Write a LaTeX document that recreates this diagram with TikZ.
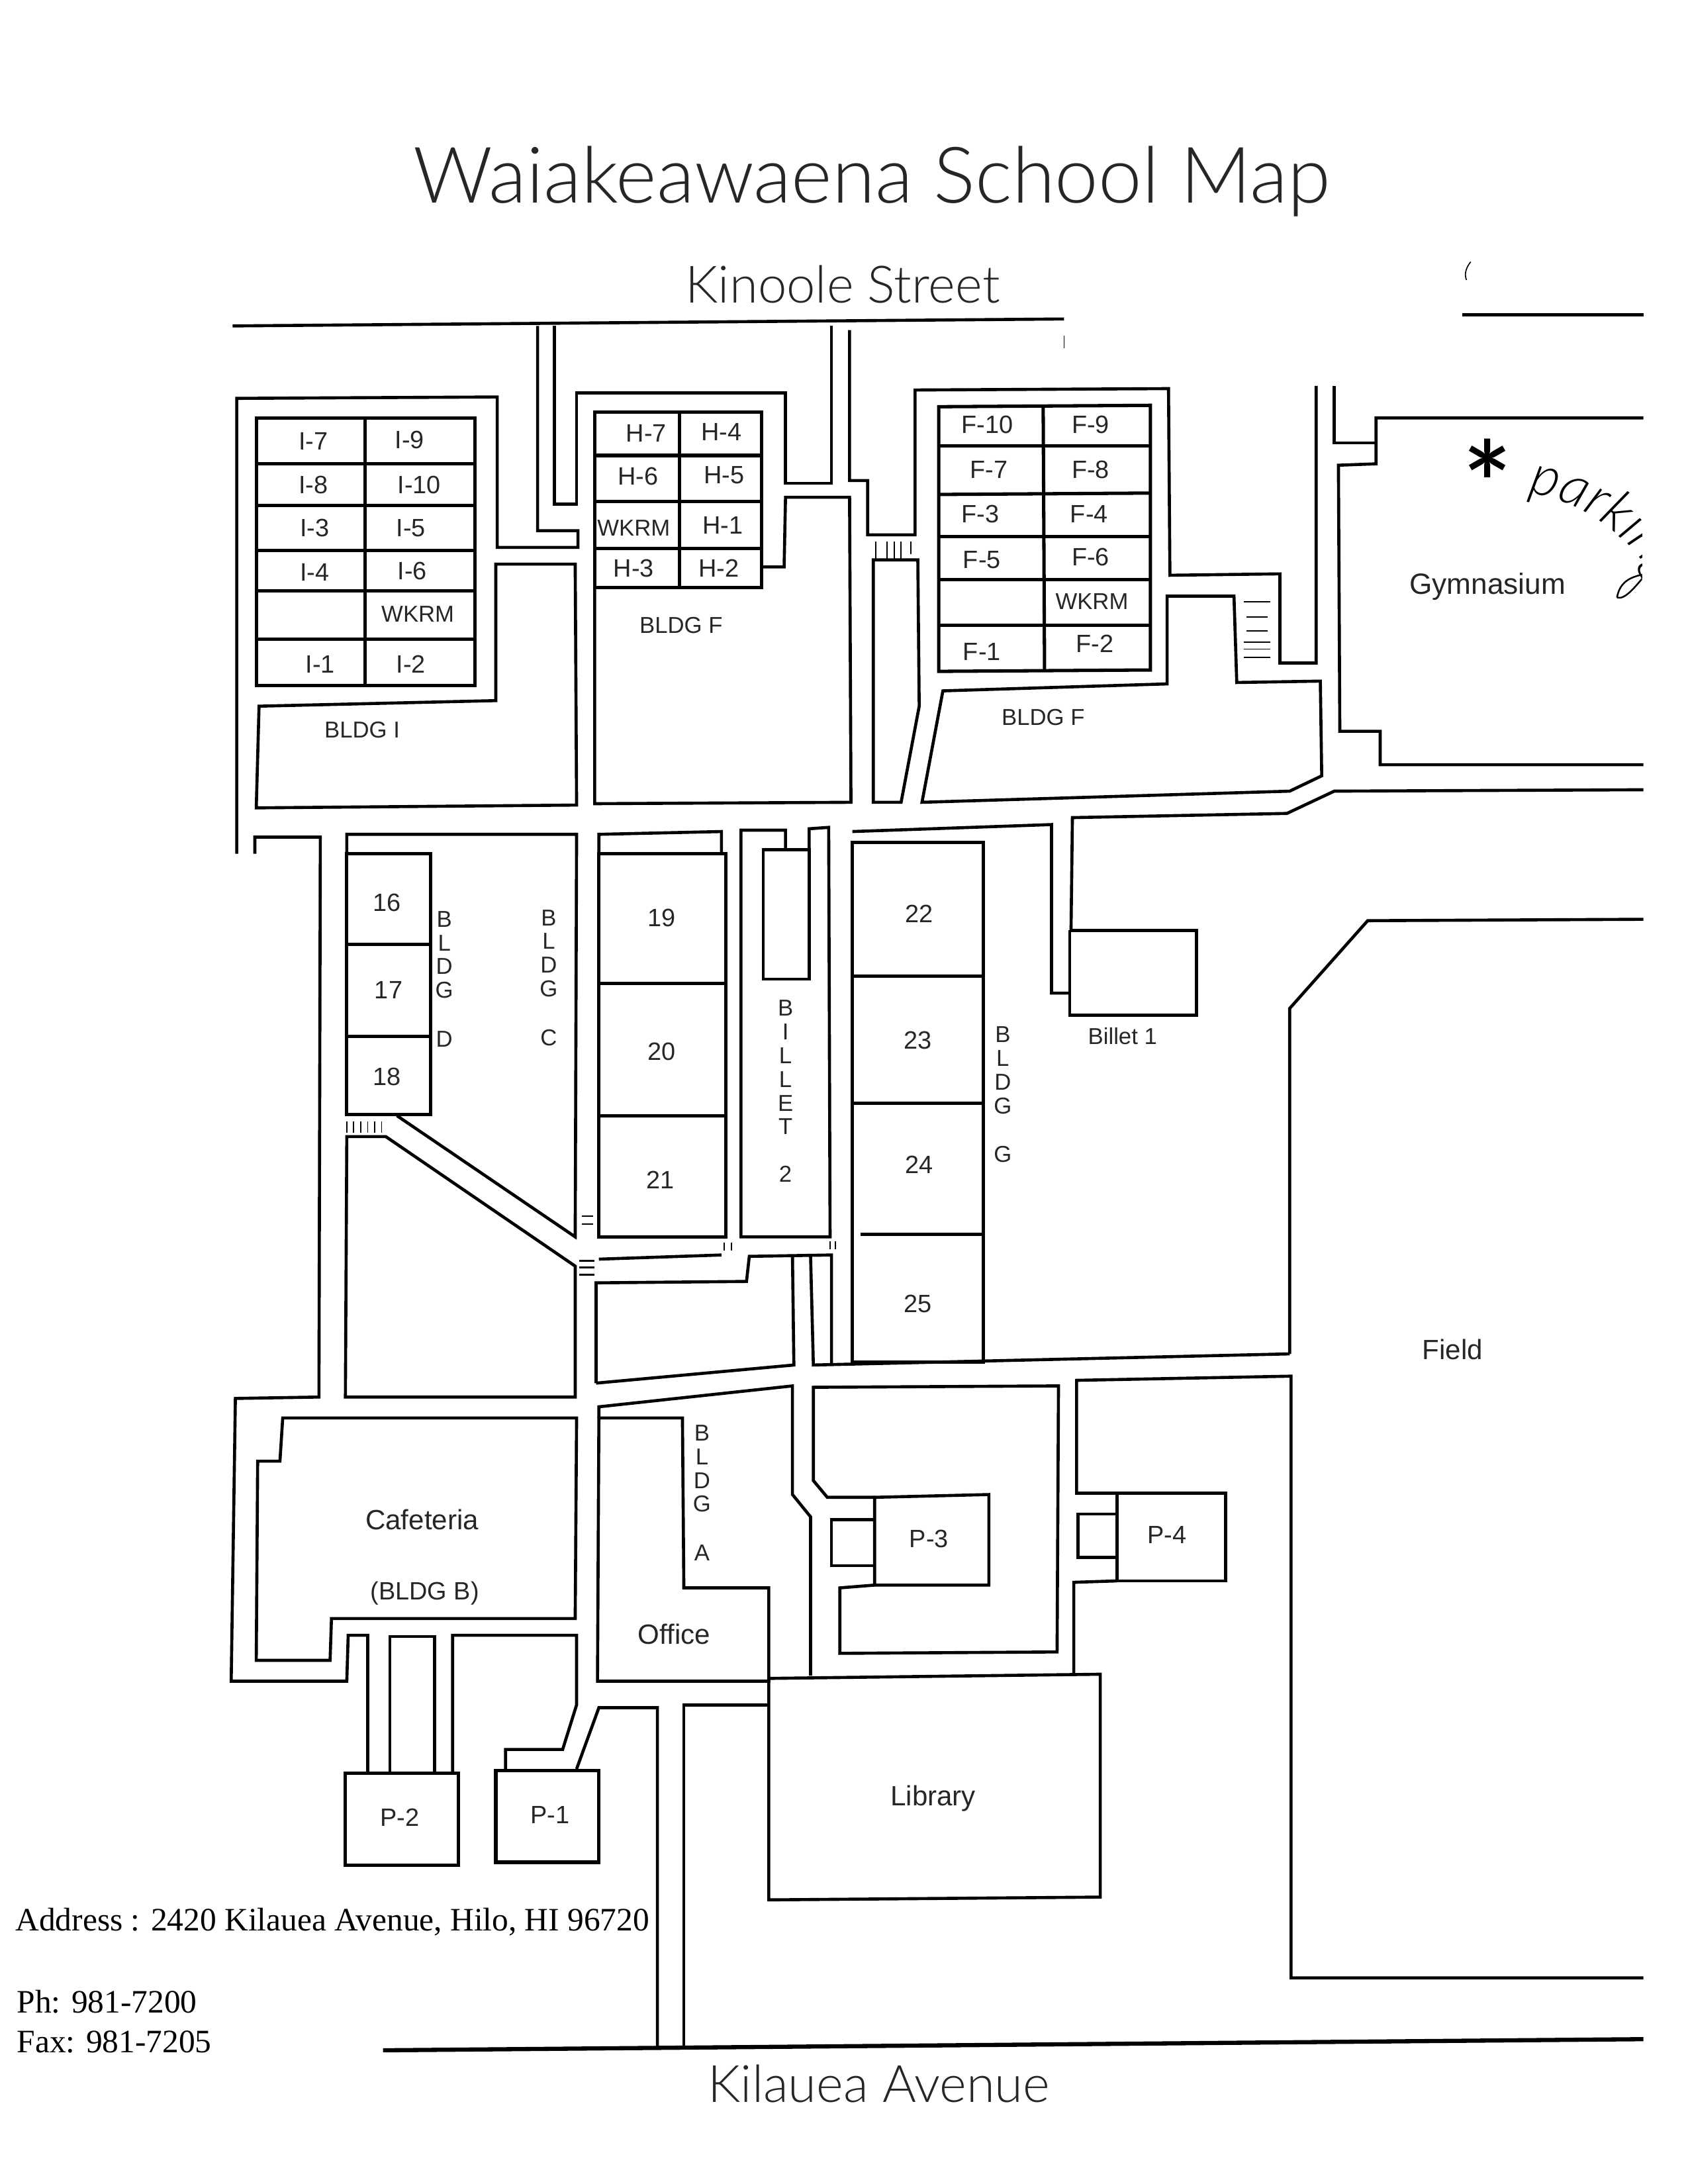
\documentclass[tikz,border=0pt]{standalone}
\usepackage{fontspec}
\usetikzlibrary{decorations.text}
\setmainfont{Liberation Sans}
\newfontfamily\addrfont{Liberation Serif}
\newfontfamily\handfont{Lato Light}
\begin{document}
\begin{tikzpicture}[
    x=1pt, y=-1pt,
    wall/.style={line width=2.2pt, line join=miter},
    roomline/.style={line width=2.4pt},
    tickline/.style={line width=0.9pt},
    room/.style={inner sep=0pt, font=\fontsize{18}{18}\selectfont, text=black!85},
    sign/.style={inner sep=0pt, font=\fontsize{20}{20}\selectfont, text=black!85},
    bldg/.style={inner sep=0pt, font=\fontsize{16.5}{16.5}\selectfont, text=black!85},
    vlabel/.style={anchor=north, inner sep=0pt, align=center, font=\fontsize{16.5}{17}\selectfont, text=black!85},
    street/.style={inner sep=0pt, text=black!85, font=\handfont\fontsize{37}{37}\selectfont},
    addr/.style={anchor=west, inner sep=0pt, font=\addrfont\fontsize{23.5}{23.5}\selectfont}
]
\useasboundingbox (0,0) rectangle (1212,1568);

% Title and streets
\node[inner sep=0pt, text=black!85, font=\handfont\fontsize{56}{56}\selectfont] (title) at (626,130) {Waiakeawaena School Map};
\node[street] (kinoole) at (605,204) {Kinoole Street};
\node[street] (kilauea) at (631,1496) {Kilauea Avenue};
\draw[wall] (167,234) -- (764,229);
\draw[wall] (1050,226) -- (1180,226);
\draw[line width=3pt] (275,1472) -- (1180,1464);
\draw[line width=0.8pt] (1056,188) .. controls (1051,194) and (1052,199) .. (1053,201);
\draw[line width=0.8pt] (764,241) -- (764,250);

% Paths round BLDG I and BLDG H
\draw[wall] (170,613) -- (170,286) -- (357,285) -- (357,393) -- (415,393) -- (415,381) -- (386,381) -- (386,234);
\draw[wall] (398,234) -- (398,362) -- (414,362) -- (414,282) -- (564,282) -- (564,347) -- (597,347) -- (597,234);
\draw[wall] (610,237) -- (610,345) -- (623,345) -- (623,384) -- (657,384) -- (657,280) -- (839,279) -- (840,413) -- (919,412) -- (919,476) -- (945,476) -- (945,277);

% BLDG I
\draw[wall] (186,507) -- (356,503) -- (356,405) -- (413,405) -- (414,578) -- (184,580) -- cycle;
\draw[roomline] (184,300) rectangle (341,492);
\draw[roomline] (262,300) -- (262,492);
\draw[roomline] (184,333) -- (341,333);
\draw[roomline] (184,363) -- (341,363);
\draw[roomline] (184,395) -- (341,395);
\draw[roomline] (184,424) -- (341,424);
\draw[roomline] (184,459) -- (341,459);
\node[room] (i7) at (225,317) {I-7};
\node[room] (i9) at (294,316) {I-9};
\node[room] (i8) at (225,348) {I-8};
\node[room] (i10) at (301,348) {I-10};
\node[room] (i3) at (226,379) {I-3};
\node[room] (i5) at (295,379) {I-5};
\node[room] (i4) at (226,411) {I-4};
\node[room] (i6) at (296,410) {I-6};
\node[bldg] (wkrmi) at (300,441) {WKRM};
\node[room] (i1) at (230,477) {I-1};
\node[room] (i2) at (295,477) {I-2};
\node[bldg] (bldgi) at (260,524) {BLDG I};

% BLDG H rooms and the block below them
\draw[wall] (427,422) -- (427,577) -- (611,576) -- (610,357) -- (564,357) -- (563,407) -- (547,407);
\draw[roomline] (427,296) rectangle (547,422);
\draw[roomline] (488,296) -- (488,422);
\draw[roomline] (427,327) -- (547,327);
\draw[roomline] (427,360) -- (547,360);
\draw[roomline] (427,394) -- (547,394);
\node[room] (h7) at (464,311) {H-7};
\node[room] (h4) at (518,310) {H-4};
\node[room] (h6) at (458,342) {H-6};
\node[room] (h5) at (520,341) {H-5};
\node[bldg] (wkrmh) at (455,379) {WKRM};
\node[room] (h1) at (519,377) {H-1};
\node[room] (h3) at (455,408) {H-3};
\node[room] (h2) at (516,408) {H-2};
\node[bldg] (bldgf) at (489,449) {BLDG F};

% Island and steps
\draw[wall] (627,402) -- (659,402) -- (660,507) -- (647,576) -- (627,576) -- cycle;
\draw[tickline] (629,389) -- (629,401) (637,389) -- (637,401) (642,389) -- (642,401) (647,389) -- (647,401) (654,389) -- (654,398);
\draw[tickline] (893,432) -- (912,432) (895,443) -- (910,443) (895,453) -- (910,453) (893,461) -- (912,461) (893,466) -- (912,466) (893,472) -- (912,472);

% BLDG F rooms and lower block
\draw[wall] (677,496) -- (838,491) -- (838,428) -- (886,428) -- (888,490) -- (948,489) -- (949,557) -- (926,568) -- (662,576) -- cycle;
\draw[roomline] (674,292) -- (826,291) -- (826,481) -- (674,482) -- cycle;
\draw[roomline] (749,291) -- (750,482);
\draw[roomline] (674,320) -- (826,320);
\draw[roomline] (674,355) -- (826,354);
\draw[roomline] (674,385) -- (826,385);
\draw[roomline] (674,416) -- (826,416);
\draw[roomline] (674,449) -- (826,449);
\node[room] (f10) at (709,305) {F-10};
\node[room] (f9) at (783,305) {F-9};
\node[room] (f7) at (710,337) {F-7};
\node[room] (f8) at (783,337) {F-8};
\node[room] (f3) at (704,369) {F-3};
\node[room] (f4) at (782,369) {F-4};
\node[room] (f5) at (705,402) {F-5};
\node[room] (f6) at (783,400) {F-6};
\node[bldg] (wkrmf) at (784,432) {WKRM};
\node[room] (f1) at (705,468) {F-1};
\node[room] (f2) at (786,462) {F-2};
\node[bldg] (bldgfb) at (749,515) {BLDG F};

% Gymnasium
\draw[wall] (1180,300) -- (988,300) -- (988,333) -- (961,334) -- (962,525) -- (991,525) -- (991,549) -- (1180,549);
\draw[wall] (958,277) -- (958,318) -- (988,318);
\node[inner sep=0pt, font=\fontsize{21}{21}\selectfont, text=black!85] (gym) at (1068,421) {Gymnasium};
\begin{scope}
\clip (1040,300) rectangle (1179,450);
\node[inner sep=0pt, font=\handfont\bfseries\fontsize{84}{84}\selectfont] (star) at (1068,347) {*};
\path[decorate, decoration={text along path, text={|\handfont\itshape\fontsize{40}{40}\selectfont|parking}}] (1097,354) .. controls (1125,358) and (1165,375) .. (1190,420);
\draw[line width=1.2pt] (1161,429) .. controls (1163,418) and (1170,414) .. (1182,412) .. controls (1175,420) and (1167,431) .. (1161,429);
\end{scope}

% Road edge and Billet 1
\draw[wall] (1180,567) -- (958,568) -- (924,584) -- (770,587) -- (769,668);
\draw[wall] (612,597) -- (755,592) -- (755,713) -- (768,713);
\draw[wall] (769,668) -- (859,668) -- (859,729) -- (768,729) -- (768,668);
\node[bldg] (billeti) at (806,744) {Billet 1};

% West side, cafeteria outer walk
\draw[wall] (183,613) -- (183,601) -- (230,601) -- (229,1003) -- (169,1004) -- (166,1207) -- (249,1207) -- (250,1174) -- (264,1174) -- (264,1272);

% BLDG C and D
\draw[wall] (249,613) -- (249,599) -- (414,599) -- (413,888) -- (285,801);
\draw[roomline] (249,613) rectangle (309,800);
\draw[wall] (249,678) -- (309,678);
\draw[wall] (249,744) -- (309,744);
\node[room] (r16) at (278,648) {16};
\node[room] (r17) at (279,711) {17};
\node[room] (r18) at (278,773) {18};
\node[vlabel] (bldgd) at (319,654) {B\\L\\D\\G\\[18pt]D};
\node[vlabel] (bldgc) at (394,653) {B\\L\\D\\G\\[18pt]C};
\draw[tickline] (249,805) -- (249,813) (254,805) -- (254,813) (259,805) -- (259,813) (264,805) -- (264,813) (269,805) -- (269,813) (274,805) -- (274,813);
\draw[wall] (249,816) -- (277,816) -- (413,909) -- (413,1003) -- (248,1003) -- cycle;
\draw[tickline] (418,873) -- (426,873) (418,879) -- (426,879);
\draw[line width=1.4pt] (416,905) -- (427,905) (416,910) -- (427,910) (416,915) -- (427,915);

% Rooms 19 to 21
\draw[wall] (430,613) -- (430,599) -- (518,597) -- (518,612);
\draw[roomline] (430,613) rectangle (521,888);
\draw[roomline] (430,706) -- (521,706);
\draw[roomline] (430,801) -- (521,801);
\node[room] (r19) at (475,659) {19};
\node[room] (r20) at (475,755) {20};
\node[room] (r21) at (474,847) {21};
\draw[wall] (430,904) -- (518,901);
\draw[tickline] (520,892) -- (520,898) (525,892) -- (525,898) (596,891) -- (596,897) (600,891) -- (600,897);

% Billet 2
\draw[wall] (564,609) -- (564,596) -- (532,596) -- (532,888) -- (596,888) -- (595,594) -- (581,595) -- (581,609);
\draw[wall] (548,610) rectangle (581,703);
\node[vlabel] (billetii) at (564,718) {B\\I\\L\\L\\E\\T\\[17pt]2};

% Block south of rooms 19 to 21
\draw[wall] (428,993) -- (428,921) -- (536,920) -- (538,902) -- (597,901) -- (597,979);
\draw[wall] (569,902) -- (570,980) -- (428,993);
\draw[wall] (582,902) -- (584,980) -- (926,972);

% Rooms 22 to 25
\draw[roomline] (612,605) rectangle (706,978);
\draw[roomline] (612,701) -- (706,701);
\draw[wall] (612,792) -- (706,792);
\draw[roomline] (618,886) -- (706,886);
\node[room] (r22) at (660,656) {22};
\node[room] (r23) at (659,747) {23};
\node[room] (r24) at (660,836) {24};
\node[room] (r25) at (659,936) {25};
\node[vlabel] (bldgg) at (720,737) {B\\L\\D\\G\\[18pt]G};

% Field
\draw[wall] (1180,660) -- (982,661) -- (926,724) -- (926,972);
\draw[wall] (1180,1420) -- (927,1420) -- (927,988) -- (773,991) -- (773,1072) -- (802,1072);
\node[sign] (field) at (1043,969) {Field};

% Cafeteria
\draw[wall] (203,1018) -- (414,1018) -- (413,1162) -- (238,1162) -- (237,1192) -- (184,1192) -- (185,1049) -- (201,1049) -- cycle;
\node[sign] (cafeteria) at (303,1091) {Cafeteria};
\node[bldg, font=\fontsize{18}{18}\selectfont] (bldgb) at (305,1144) {(BLDG B)};

% P-2 and P-1
\draw[roomline] (248,1273) rectangle (329,1339);
\draw[wall] (280,1272) -- (280,1175) -- (312,1175) -- (312,1272);
\draw[wall] (325,1272) -- (325,1174) -- (414,1174) -- (414,1224) -- (404,1256) -- (363,1256) -- (363,1271);
\draw[roomline] (356,1271) rectangle (430,1337);
\draw[wall] (414,1270) -- (430,1226) -- (472,1226) -- (472,1470);
\draw[wall] (491,1470) -- (491,1224) -- (552,1224);
\node[room] (p2) at (287,1305) {P-2};
\node[room] (p1) at (395,1303) {P-1};

% Office, BLDG A
\draw[wall] (430,1018) -- (490,1018) -- (491,1140) -- (552,1140) -- (552,1207) -- (429,1207) -- cycle;
\draw[wall] (430,1018) -- (430,1010) -- (569,995) -- (569,1073) -- (582,1089) -- (582,1203);
\node[sign] (office) at (484,1173) {Office};
\node[vlabel] (bldga) at (504,1023) {B\\L\\D\\G\\[18pt]A};

% Library
\draw[wall] (552,1205) -- (790,1202) -- (790,1362) -- (552,1364) -- cycle;
\node[sign] (library) at (670,1291) {Library};

% P-3
\draw[wall] (628,1138) -- (603,1140) -- (603,1187) -- (759,1186) -- (760,995) -- (584,996) -- (584,1063) -- (594,1075) -- (628,1075);
\draw[wall] (628,1075) -- (710,1073) -- (710,1138) -- (628,1138) -- cycle;
\draw[wall] (628,1091) -- (597,1091) -- (597,1124) -- (628,1124);
\node[room] (p3) at (667,1105) {P-3};

% P-4
\draw[wall] (802,1072) rectangle (880,1135);
\draw[wall] (802,1087) -- (774,1087) -- (774,1118) -- (802,1118);
\draw[wall] (802,1135) -- (771,1136) -- (771,1202);
\node[room] (p4) at (838,1102) {P-4};

% Address
\node[addr] (address) at (11,1380) {Address : 2420 Kilauea Avenue, Hilo, HI 96720};
\node[addr] (phone) at (12,1437) {Ph: 981-7200};
\node[addr] (fax) at (12,1466) {Fax: 981-7205};

\end{tikzpicture}
\end{document}
